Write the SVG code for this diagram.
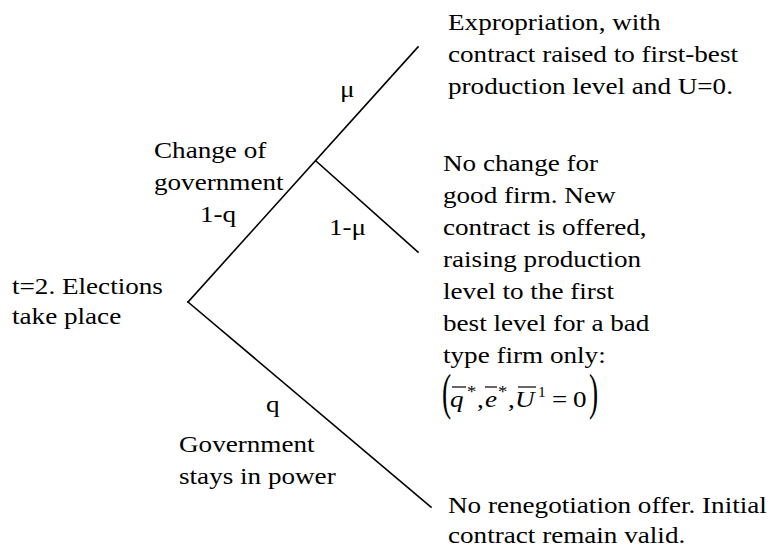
<svg xmlns="http://www.w3.org/2000/svg" width="770" height="548" viewBox="0 0 770 548">
<style>
.t{font-family:"Liberation Serif","Times New Roman",serif;font-size:23px;fill:#000}
.i{font-style:italic}
.e{stroke:#000;stroke-width:1.6;fill:none;stroke-linecap:square}
.b{stroke:#000;stroke-width:1.2}
</style>
<rect width="770" height="548" fill="#fff"/>
<g id="connectors">
<line class="e" x1="188" y1="302" x2="418" y2="47"/>
<line class="e" x1="316" y1="161" x2="418" y2="252"/>
<line class="e" x1="188" y1="302" x2="431" y2="507"/>
</g>
<g id="edge-labels">
<text class="t" transform="translate(340,97) scale(1.18,1)">μ</text>
<text class="t" transform="translate(154,158) scale(1.18,1)"><tspan x="0" y="0">Change of</tspan><tspan x="0" dy="32">government</tspan></text>
<text class="t" transform="translate(200,222) scale(1.18,1)">1-q</text>
<text class="t" transform="translate(329,235) scale(1.18,1)">1-μ</text>
<text class="t" transform="translate(266,412) scale(1.18,1)">q</text>
<text class="t" transform="translate(179,452) scale(1.18,1)"><tspan x="0" y="0">Government</tspan><tspan x="0" dy="32">stays in power</tspan></text>
</g>
<g id="root">
<text class="t" transform="translate(12,294) scale(1.18,1)"><tspan x="0" y="0">t=2. Elections</tspan><tspan x="0" dy="30">take place</tspan></text>
</g>
<g id="leaf-expropriation">
<text class="t" transform="translate(448,30) scale(1.18,1)"><tspan x="0" y="0">Expropriation, with</tspan><tspan x="0" dy="32">contract raised to first-best</tspan><tspan x="0" dy="32">production level and U=0.</tspan></text>
</g>
<g id="leaf-new-contract">
<text class="t" transform="translate(443,171) scale(1.18,1)"><tspan x="0" y="0">No change for</tspan><tspan x="0" dy="32">good firm. New</tspan><tspan x="0" dy="32">contract is offered,</tspan><tspan x="0" dy="32">raising production</tspan><tspan x="0" dy="32">level to the first</tspan><tspan x="0" dy="32">best level for a bad</tspan><tspan x="0" dy="32">type firm only:</tspan></text>
<g id="formula">
<text class="t" style="font-size:50px" transform="translate(442,409) scale(0.55,1)">(</text>
<text class="t i" transform="translate(450,407) scale(1.18,1)">q</text>
<line class="b" x1="452" y1="387" x2="466" y2="387"/>
<text class="t" style="font-size:17px" transform="translate(467,397) scale(1.1,1)">*</text>
<text class="t" transform="translate(477,407) scale(1.18,1)">,</text>
<text class="t i" transform="translate(485,407) scale(1.18,1)">e</text>
<line class="b" x1="485" y1="387" x2="497" y2="387"/>
<text class="t" style="font-size:17px" transform="translate(498,397) scale(1.1,1)">*</text>
<text class="t" transform="translate(508,407) scale(1.18,1)">,</text>
<text class="t i" transform="translate(515,407) scale(1.18,1)">U</text>
<line class="b" x1="518" y1="387" x2="536" y2="387"/>
<text class="t" style="font-size:14px" transform="translate(538,397) scale(1.1,1)">1</text>
<text class="t" transform="translate(552,407) scale(1.18,1)">=</text>
<text class="t" transform="translate(573,407) scale(1.18,1)">0</text>
<text class="t" style="font-size:50px" transform="translate(589,409) scale(0.55,1)">)</text>
</g>
</g>
<g id="leaf-no-renegotiation">
<text class="t" transform="translate(448,513) scale(1.18,1)"><tspan x="0" y="0">No renegotiation offer. Initial</tspan><tspan x="0" dy="30">contract remain valid.</tspan></text>
</g>
</svg>
